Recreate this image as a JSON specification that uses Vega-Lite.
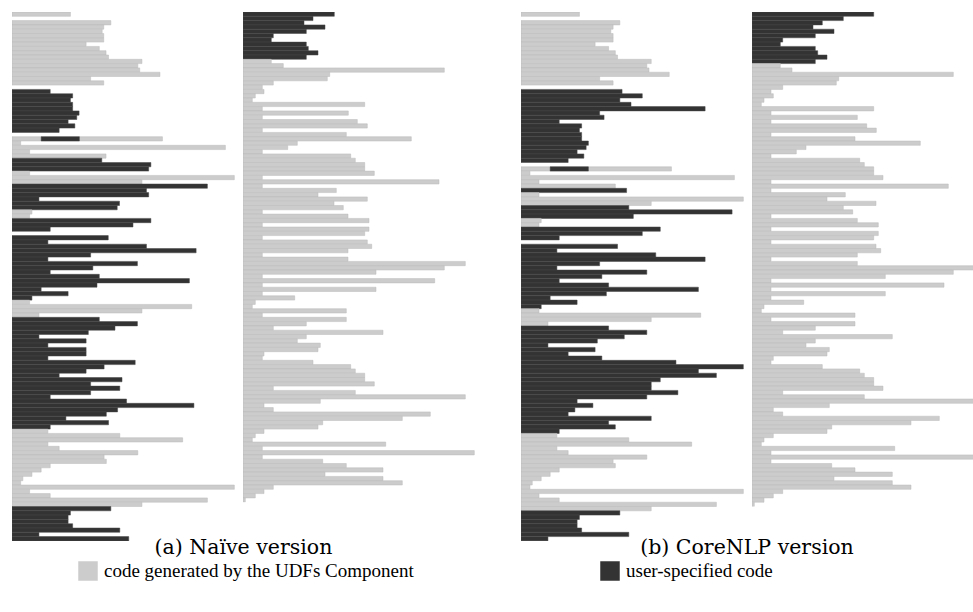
{
"$schema":"https://vega.github.io/schema/vega-lite/v6.json",
"padding":{"left":12,"top":12,"right":0,"bottom":0},
"datasets":{
"A1":[{"r":0,"e":60.7,"k":"g"},{"r":1,"e":0,"k":"g"},{"r":2,"e":102.7,"k":"g"},{"r":3,"e":95.3,"k":"g"},{"r":4,"e":93.7,"k":"g"},{"r":5,"e":95.3,"k":"g"},{"r":6,"e":95.3,"k":"g"},{"r":7,"e":77,"k":"g"},{"r":8,"e":90.7,"k":"g"},{"r":9,"e":97.7,"k":"g"},{"r":10,"e":100.3,"k":"g"},{"r":11,"e":135,"k":"g"},{"r":12,"e":130.7,"k":"g"},{"r":13,"e":132.7,"k":"g"},{"r":14,"e":153.7,"k":"g"},{"r":15,"e":81.7,"k":"g"},{"r":16,"e":95.3,"k":"g"},{"r":17,"e":0,"k":"g"},{"r":18,"e":39.7,"k":"u"},{"r":19,"e":63,"k":"u"},{"r":20,"e":60.7,"k":"u"},{"r":21,"e":63,"k":"u"},{"r":22,"e":63,"k":"u"},{"r":23,"e":69.7,"k":"u"},{"r":24,"e":67.3,"k":"u"},{"r":25,"e":58.3,"k":"u"},{"r":26,"e":65.3,"k":"u"},{"r":27,"e":49,"k":"u"},{"r":28,"e":0,"k":"g"},{"r":29,"e":156.3,"k":"g"},{"r":30,"e":9,"k":"g"},{"r":31,"e":221.7,"k":"g"},{"r":32,"e":18.3,"k":"g"},{"r":33,"e":97.7,"k":"g"},{"r":34,"e":93.3,"k":"u"},{"r":35,"e":144.3,"k":"u"},{"r":36,"e":142,"k":"u"},{"r":37,"e":18.3,"k":"g"},{"r":38,"e":231,"k":"g"},{"r":39,"e":135,"k":"g"},{"r":40,"e":203,"k":"u"},{"r":41,"e":139.7,"k":"u"},{"r":42,"e":142,"k":"u"},{"r":43,"e":28,"k":"u"},{"r":44,"e":111.7,"k":"u"},{"r":45,"e":109.3,"k":"u"},{"r":46,"e":20.7,"k":"g"},{"r":47,"e":18.3,"k":"g"},{"r":48,"e":144.3,"k":"u"},{"r":49,"e":125.7,"k":"u"},{"r":50,"e":39.7,"k":"u"},{"r":51,"e":0,"k":"g"},{"r":52,"e":100,"k":"u"},{"r":53,"e":37.3,"k":"u"},{"r":54,"e":139.7,"k":"u"},{"r":55,"e":191.3,"k":"u"},{"r":56,"e":81.7,"k":"u"},{"r":57,"e":37.3,"k":"u"},{"r":58,"e":130.3,"k":"u"},{"r":59,"e":84,"k":"u"},{"r":60,"e":39.7,"k":"u"},{"r":61,"e":90.7,"k":"u"},{"r":62,"e":184.3,"k":"u"},{"r":63,"e":88.3,"k":"u"},{"r":64,"e":30.3,"k":"u"},{"r":65,"e":58.3,"k":"u"},{"r":66,"e":20.7,"k":"u"},{"r":67,"e":18.3,"k":"g"},{"r":68,"e":186.7,"k":"g"},{"r":69,"e":135,"k":"g"},{"r":70,"e":28,"k":"g"},{"r":71,"e":90.7,"k":"u"},{"r":72,"e":130.3,"k":"u"},{"r":73,"e":107,"k":"u"},{"r":74,"e":79.3,"k":"u"},{"r":75,"e":28,"k":"u"},{"r":76,"e":77,"k":"u"},{"r":77,"e":37.3,"k":"u"},{"r":78,"e":77,"k":"u"},{"r":79,"e":77,"k":"u"},{"r":80,"e":37.3,"k":"u"},{"r":81,"e":128,"k":"u"},{"r":82,"e":95.7,"k":"u"},{"r":83,"e":77,"k":"u"},{"r":84,"e":49,"k":"u"},{"r":85,"e":114.3,"k":"u"},{"r":86,"e":81.7,"k":"u"},{"r":87,"e":112,"k":"u"},{"r":88,"e":81.7,"k":"u"},{"r":89,"e":39.7,"k":"u"},{"r":90,"e":119,"k":"u"},{"r":91,"e":189,"k":"u"},{"r":92,"e":109.7,"k":"u"},{"r":93,"e":98,"k":"u"},{"r":94,"e":56,"k":"u"},{"r":95,"e":100.3,"k":"u"},{"r":96,"e":39.7,"k":"u"},{"r":97,"e":37.3,"k":"g"},{"r":98,"e":112,"k":"g"},{"r":99,"e":177.3,"k":"g"},{"r":100,"e":37.3,"k":"g"},{"r":101,"e":49,"k":"g"},{"r":102,"e":130.7,"k":"g"},{"r":103,"e":95.7,"k":"g"},{"r":104,"e":98,"k":"g"},{"r":105,"e":39.7,"k":"g"},{"r":106,"e":30.3,"k":"g"},{"r":107,"e":20.7,"k":"g"},{"r":108,"e":11.3,"k":"g"},{"r":109,"e":9,"k":"g"},{"r":110,"e":231,"k":"g"},{"r":111,"e":18.3,"k":"g"},{"r":112,"e":39.7,"k":"g"},{"r":113,"e":203,"k":"g"},{"r":114,"e":135,"k":"g"},{"r":115,"e":102.7,"k":"u"},{"r":116,"e":60.7,"k":"u"},{"r":117,"e":58.3,"k":"u"},{"r":118,"e":58.3,"k":"u"},{"r":119,"e":63,"k":"u"},{"r":120,"e":112,"k":"u"},{"r":121,"e":28,"k":"u"},{"r":122,"e":121.3,"k":"u"}],
"A1s":[{"r":29,"s":30.3,"e":70,"k":"u"}],
"A2":[{"r":0,"e":91.3,"k":"u"},{"r":1,"e":70,"k":"u"},{"r":2,"e":61,"k":"u"},{"r":3,"e":82,"k":"u"},{"r":4,"e":63.3,"k":"u"},{"r":5,"e":30.3,"k":"u"},{"r":6,"e":28.3,"k":"u"},{"r":7,"e":63.3,"k":"u"},{"r":8,"e":65.3,"k":"u"},{"r":9,"e":75,"k":"u"},{"r":10,"e":63.3,"k":"u"},{"r":11,"e":28.3,"k":"g"},{"r":12,"e":40.3,"k":"g"},{"r":13,"e":201.3,"k":"g"},{"r":14,"e":86.7,"k":"g"},{"r":15,"e":84.3,"k":"g"},{"r":16,"e":30.3,"k":"g"},{"r":17,"e":19.3,"k":"g"},{"r":18,"e":21,"k":"g"},{"r":19,"e":12.3,"k":"g"},{"r":20,"e":9.3,"k":"g"},{"r":21,"e":121.7,"k":"g"},{"r":22,"e":19.3,"k":"g"},{"r":23,"e":105.3,"k":"g"},{"r":24,"e":19.3,"k":"g"},{"r":25,"e":114.3,"k":"g"},{"r":26,"e":124.3,"k":"g"},{"r":27,"e":19.3,"k":"g"},{"r":28,"e":103.3,"k":"g"},{"r":29,"e":168.3,"k":"g"},{"r":30,"e":54.3,"k":"g"},{"r":31,"e":44.7,"k":"g"},{"r":32,"e":19.3,"k":"g"},{"r":33,"e":107.7,"k":"g"},{"r":34,"e":112.3,"k":"g"},{"r":35,"e":121.7,"k":"g"},{"r":36,"e":121.7,"k":"g"},{"r":37,"e":131.3,"k":"g"},{"r":38,"e":19.3,"k":"g"},{"r":39,"e":196,"k":"g"},{"r":40,"e":19.3,"k":"g"},{"r":41,"e":93.3,"k":"g"},{"r":42,"e":75,"k":"g"},{"r":43,"e":124.3,"k":"g"},{"r":44,"e":91,"k":"g"},{"r":45,"e":100.3,"k":"g"},{"r":46,"e":19.3,"k":"g"},{"r":47,"e":105,"k":"g"},{"r":48,"e":126,"k":"g"},{"r":49,"e":19.3,"k":"g"},{"r":50,"e":126,"k":"g"},{"r":51,"e":121.7,"k":"g"},{"r":52,"e":19.3,"k":"g"},{"r":53,"e":124.3,"k":"g"},{"r":54,"e":128.7,"k":"g"},{"r":55,"e":105,"k":"g"},{"r":56,"e":19.3,"k":"g"},{"r":57,"e":105,"k":"g"},{"r":58,"e":222.3,"k":"g"},{"r":59,"e":201.3,"k":"g"},{"r":60,"e":133,"k":"g"},{"r":61,"e":19.3,"k":"g"},{"r":62,"e":191.7,"k":"g"},{"r":63,"e":19.3,"k":"g"},{"r":64,"e":133,"k":"g"},{"r":65,"e":19.3,"k":"g"},{"r":66,"e":51.7,"k":"g"},{"r":67,"e":12.3,"k":"g"},{"r":68,"e":9.3,"k":"g"},{"r":69,"e":103.3,"k":"g"},{"r":70,"e":19.3,"k":"g"},{"r":71,"e":103.3,"k":"g"},{"r":72,"e":63.3,"k":"g"},{"r":73,"e":30.3,"k":"g"},{"r":74,"e":140,"k":"g"},{"r":75,"e":63.3,"k":"g"},{"r":76,"e":54.3,"k":"g"},{"r":77,"e":77.3,"k":"g"},{"r":78,"e":75,"k":"g"},{"r":79,"e":21,"k":"g"},{"r":80,"e":19.3,"k":"g"},{"r":81,"e":70,"k":"g"},{"r":82,"e":107.7,"k":"g"},{"r":83,"e":112.3,"k":"g"},{"r":84,"e":121.7,"k":"g"},{"r":85,"e":121.7,"k":"g"},{"r":86,"e":131.3,"k":"g"},{"r":87,"e":30.3,"k":"g"},{"r":88,"e":112.3,"k":"g"},{"r":89,"e":222.3,"k":"g"},{"r":90,"e":77.3,"k":"g"},{"r":91,"e":21,"k":"g"},{"r":92,"e":30.3,"k":"g"},{"r":93,"e":187.3,"k":"g"},{"r":94,"e":159.3,"k":"g"},{"r":95,"e":79.7,"k":"g"},{"r":96,"e":75,"k":"g"},{"r":97,"e":21,"k":"g"},{"r":98,"e":12.3,"k":"g"},{"r":99,"e":9.3,"k":"g"},{"r":100,"e":142.7,"k":"g"},{"r":101,"e":19.3,"k":"g"},{"r":102,"e":231.3,"k":"g"},{"r":103,"e":19.3,"k":"g"},{"r":104,"e":79.7,"k":"g"},{"r":105,"e":103.3,"k":"g"},{"r":106,"e":140,"k":"g"},{"r":107,"e":82,"k":"g"},{"r":108,"e":140,"k":"g"},{"r":109,"e":159.3,"k":"g"},{"r":110,"e":30.3,"k":"g"},{"r":111,"e":21,"k":"g"},{"r":112,"e":12.3,"k":"g"},{"r":113,"e":2.3,"k":"g"}],
"B1":[{"r":0,"e":60.7,"k":"g"},{"r":1,"e":0,"k":"g"},{"r":2,"e":102.7,"k":"g"},{"r":3,"e":95.7,"k":"g"},{"r":4,"e":93.3,"k":"g"},{"r":5,"e":95.7,"k":"g"},{"r":6,"e":95.7,"k":"g"},{"r":7,"e":77,"k":"g"},{"r":8,"e":91,"k":"g"},{"r":9,"e":98,"k":"g"},{"r":10,"e":100.3,"k":"g"},{"r":11,"e":135.3,"k":"g"},{"r":12,"e":130.7,"k":"g"},{"r":13,"e":133,"k":"g"},{"r":14,"e":154,"k":"g"},{"r":15,"e":81.7,"k":"g"},{"r":16,"e":95.7,"k":"g"},{"r":17,"e":0,"k":"g"},{"r":18,"e":105,"k":"u"},{"r":19,"e":126,"k":"u"},{"r":20,"e":102.7,"k":"u"},{"r":21,"e":114.3,"k":"u"},{"r":22,"e":191.3,"k":"u"},{"r":23,"e":81.7,"k":"u"},{"r":24,"e":86.3,"k":"u"},{"r":25,"e":39.7,"k":"u"},{"r":26,"e":63,"k":"u"},{"r":27,"e":60.7,"k":"u"},{"r":28,"e":63,"k":"u"},{"r":29,"e":63,"k":"u"},{"r":30,"e":70,"k":"u"},{"r":31,"e":67.7,"k":"u"},{"r":32,"e":58.3,"k":"u"},{"r":33,"e":65.3,"k":"u"},{"r":34,"e":49,"k":"u"},{"r":35,"e":0,"k":"g"},{"r":36,"e":156.3,"k":"g"},{"r":37,"e":9.3,"k":"g"},{"r":38,"e":221.7,"k":"g"},{"r":39,"e":18.7,"k":"g"},{"r":40,"e":98,"k":"g"},{"r":41,"e":109.7,"k":"u"},{"r":42,"e":18.7,"k":"g"},{"r":43,"e":231,"k":"g"},{"r":44,"e":135.3,"k":"g"},{"r":45,"e":112,"k":"u"},{"r":46,"e":219.3,"k":"u"},{"r":47,"e":116.7,"k":"u"},{"r":48,"e":21,"k":"g"},{"r":49,"e":18.7,"k":"g"},{"r":50,"e":144.7,"k":"u"},{"r":51,"e":126,"k":"u"},{"r":52,"e":39.7,"k":"u"},{"r":53,"e":0,"k":"g"},{"r":54,"e":100.3,"k":"u"},{"r":55,"e":37.3,"k":"u"},{"r":56,"e":140,"k":"u"},{"r":57,"e":191.3,"k":"u"},{"r":58,"e":81.7,"k":"u"},{"r":59,"e":37.3,"k":"u"},{"r":60,"e":130.7,"k":"u"},{"r":61,"e":84,"k":"u"},{"r":62,"e":39.7,"k":"u"},{"r":63,"e":91,"k":"u"},{"r":64,"e":184.3,"k":"u"},{"r":65,"e":88.7,"k":"u"},{"r":66,"e":30.3,"k":"u"},{"r":67,"e":58.3,"k":"u"},{"r":68,"e":21,"k":"u"},{"r":69,"e":18.7,"k":"g"},{"r":70,"e":186.7,"k":"g"},{"r":71,"e":135.3,"k":"g"},{"r":72,"e":28,"k":"g"},{"r":73,"e":91,"k":"u"},{"r":74,"e":130.7,"k":"u"},{"r":75,"e":107.3,"k":"u"},{"r":76,"e":79.3,"k":"u"},{"r":77,"e":28,"k":"u"},{"r":78,"e":77,"k":"u"},{"r":79,"e":49,"k":"u"},{"r":80,"e":84,"k":"u"},{"r":81,"e":161,"k":"u"},{"r":82,"e":231,"k":"u"},{"r":83,"e":184.3,"k":"u"},{"r":84,"e":203,"k":"u"},{"r":85,"e":144.7,"k":"u"},{"r":86,"e":135.3,"k":"u"},{"r":87,"e":135.3,"k":"u"},{"r":88,"e":163,"k":"u"},{"r":89,"e":130.7,"k":"u"},{"r":90,"e":58.3,"k":"u"},{"r":91,"e":74.7,"k":"u"},{"r":92,"e":56,"k":"u"},{"r":93,"e":49,"k":"u"},{"r":94,"e":135.3,"k":"u"},{"r":95,"e":91,"k":"u"},{"r":96,"e":98,"k":"u"},{"r":97,"e":39.7,"k":"u"},{"r":98,"e":37.3,"k":"g"},{"r":99,"e":112,"k":"g"},{"r":100,"e":177.3,"k":"g"},{"r":101,"e":37.3,"k":"g"},{"r":102,"e":49,"k":"g"},{"r":103,"e":130.7,"k":"g"},{"r":104,"e":95.7,"k":"g"},{"r":105,"e":98,"k":"g"},{"r":106,"e":39.7,"k":"g"},{"r":107,"e":30.3,"k":"g"},{"r":108,"e":21,"k":"g"},{"r":109,"e":11.7,"k":"g"},{"r":110,"e":9.3,"k":"g"},{"r":111,"e":231,"k":"g"},{"r":112,"e":18.7,"k":"g"},{"r":113,"e":39.7,"k":"g"},{"r":114,"e":203,"k":"g"},{"r":115,"e":135.3,"k":"g"},{"r":116,"e":102.7,"k":"u"},{"r":117,"e":60.7,"k":"u"},{"r":118,"e":58.3,"k":"u"},{"r":119,"e":58.3,"k":"u"},{"r":120,"e":63,"k":"u"},{"r":121,"e":112,"k":"u"},{"r":122,"e":28,"k":"u"}],
"B1s":[{"r":36,"s":30.3,"e":70,"k":"u"}],
"B2":[{"r":0,"e":121.7,"k":"u"},{"r":1,"e":91.3,"k":"u"},{"r":2,"e":70.3,"k":"u"},{"r":3,"e":61,"k":"u"},{"r":4,"e":82,"k":"u"},{"r":5,"e":63.3,"k":"u"},{"r":6,"e":30.7,"k":"u"},{"r":7,"e":28.3,"k":"u"},{"r":8,"e":63.3,"k":"u"},{"r":9,"e":65.7,"k":"u"},{"r":10,"e":75,"k":"u"},{"r":11,"e":63.3,"k":"u"},{"r":12,"e":28.3,"k":"g"},{"r":13,"e":40,"k":"g"},{"r":14,"e":201.3,"k":"g"},{"r":15,"e":86.7,"k":"g"},{"r":16,"e":84.3,"k":"g"},{"r":17,"e":30.7,"k":"g"},{"r":18,"e":19,"k":"g"},{"r":19,"e":21.3,"k":"g"},{"r":20,"e":12,"k":"g"},{"r":21,"e":9.3,"k":"g"},{"r":22,"e":121.7,"k":"g"},{"r":23,"e":19,"k":"g"},{"r":24,"e":105.3,"k":"g"},{"r":25,"e":19,"k":"g"},{"r":26,"e":114.7,"k":"g"},{"r":27,"e":124.3,"k":"g"},{"r":28,"e":19,"k":"g"},{"r":29,"e":103,"k":"g"},{"r":30,"e":168.3,"k":"g"},{"r":31,"e":54,"k":"g"},{"r":32,"e":44.3,"k":"g"},{"r":33,"e":19,"k":"g"},{"r":34,"e":107.7,"k":"g"},{"r":35,"e":112.3,"k":"g"},{"r":36,"e":121.7,"k":"g"},{"r":37,"e":121.7,"k":"g"},{"r":38,"e":131,"k":"g"},{"r":39,"e":19,"k":"g"},{"r":40,"e":196.3,"k":"g"},{"r":41,"e":19,"k":"g"},{"r":42,"e":93.3,"k":"g"},{"r":43,"e":75,"k":"g"},{"r":44,"e":124,"k":"g"},{"r":45,"e":91.3,"k":"g"},{"r":46,"e":100.7,"k":"g"},{"r":47,"e":19,"k":"g"},{"r":48,"e":105.3,"k":"g"},{"r":49,"e":126.3,"k":"g"},{"r":50,"e":19,"k":"g"},{"r":51,"e":126.3,"k":"g"},{"r":52,"e":121.7,"k":"g"},{"r":53,"e":19,"k":"g"},{"r":54,"e":124,"k":"g"},{"r":55,"e":128.7,"k":"g"},{"r":56,"e":105.3,"k":"g"},{"r":57,"e":19,"k":"g"},{"r":58,"e":105.3,"k":"g"},{"r":59,"e":222.3,"k":"g"},{"r":60,"e":201.3,"k":"g"},{"r":61,"e":133.3,"k":"g"},{"r":62,"e":19,"k":"g"},{"r":63,"e":192,"k":"g"},{"r":64,"e":19,"k":"g"},{"r":65,"e":133.3,"k":"g"},{"r":66,"e":19,"k":"g"},{"r":67,"e":51.7,"k":"g"},{"r":68,"e":12,"k":"g"},{"r":69,"e":9.3,"k":"g"},{"r":70,"e":103,"k":"g"},{"r":71,"e":19,"k":"g"},{"r":72,"e":103,"k":"g"},{"r":73,"e":63.3,"k":"g"},{"r":74,"e":30.7,"k":"g"},{"r":75,"e":140.3,"k":"g"},{"r":76,"e":63.3,"k":"g"},{"r":77,"e":54,"k":"g"},{"r":78,"e":77.3,"k":"g"},{"r":79,"e":75,"k":"g"},{"r":80,"e":21.3,"k":"g"},{"r":81,"e":19,"k":"g"},{"r":82,"e":70.3,"k":"g"},{"r":83,"e":107.7,"k":"g"},{"r":84,"e":112.3,"k":"g"},{"r":85,"e":121.7,"k":"g"},{"r":86,"e":121.7,"k":"g"},{"r":87,"e":131,"k":"g"},{"r":88,"e":30.7,"k":"g"},{"r":89,"e":112.3,"k":"g"},{"r":90,"e":222.3,"k":"g"},{"r":91,"e":77.3,"k":"g"},{"r":92,"e":21.3,"k":"g"},{"r":93,"e":30.7,"k":"g"},{"r":94,"e":187.3,"k":"g"},{"r":95,"e":159,"k":"g"},{"r":96,"e":79.7,"k":"g"},{"r":97,"e":75,"k":"g"},{"r":98,"e":21.3,"k":"g"},{"r":99,"e":12,"k":"g"},{"r":100,"e":9.3,"k":"g"},{"r":101,"e":142.7,"k":"g"},{"r":102,"e":19,"k":"g"},{"r":103,"e":231.3,"k":"g"},{"r":104,"e":19,"k":"g"},{"r":105,"e":79.7,"k":"g"},{"r":106,"e":103,"k":"g"},{"r":107,"e":140.3,"k":"g"},{"r":108,"e":82,"k":"g"},{"r":109,"e":140.3,"k":"g"},{"r":110,"e":159,"k":"g"},{"r":111,"e":30.7,"k":"g"},{"r":112,"e":21.3,"k":"g"},{"r":113,"e":12,"k":"g"},{"r":114,"e":2.3,"k":"g"}]
},
"hconcat":[
 {"title":{"text":"(a) Naïve version","orient":"bottom","anchor":"middle","offset":-3},
  "spacing":0,
  "resolve":{"scale":{"x":"independent","y":"independent"}},
  "hconcat":[
   {"width":231,"height":528.9,"data":{"name":"A1"},
    "encoding":{
     "y":{"field":"r","type":"ordinal","axis":null,"scale":{"paddingInner":0,"paddingOuter":0}},
     "color":{"field":"k","type":"nominal","scale":{"domain":["g","u"],"range":["#cccccc","#333333"]},
       "legend":{"labelExpr":"datum.value == 'g' ? 'code generated by the UDFs Component' : 'user-specified code'"}},
     "stroke":{"condition":{"test":"datum.k == 'u'","value":"#474747"},"value":"#bababa"},
     "strokeOpacity":{"condition":{"test":"datum.e == 0","value":0},"value":1}
    },
    "layer":[
     {"mark":{"type":"bar","strokeWidth":0.5,"clip":true},
      "encoding":{"x":{"field":"e","type":"quantitative","axis":null,"scale":{"domain":[0,231]}}}},
     {"data":{"name":"A1s"},"mark":{"type":"bar","strokeWidth":0.5,"clip":true},
      "encoding":{"x":{"field":"s","type":"quantitative","axis":null},"x2":{"field":"e"}}}
    ]},
   {"width":232,"height":490.2,"data":{"name":"A2"},
    "mark":{"type":"bar","strokeWidth":0.5,"clip":true},
    "encoding":{
     "y":{"field":"r","type":"ordinal","axis":null,"scale":{"paddingInner":0,"paddingOuter":0}},
     "x":{"field":"e","type":"quantitative","axis":null,"scale":{"domain":[0,232]}},
     "color":{"field":"k","type":"nominal","scale":{"domain":["g","u"],"range":["#cccccc","#333333"]},
       "legend":{"labelExpr":"datum.value == 'g' ? 'code generated by the UDFs Component' : 'user-specified code'"}},
     "stroke":{"condition":{"test":"datum.k == 'u'","value":"#474747"},"value":"#bababa"},
     "strokeOpacity":{"condition":{"test":"datum.e == 0","value":0},"value":1}
    }}
  ]},
 {"title":{"text":"(b) CoreNLP version","orient":"bottom","anchor":"middle","offset":-3},
  "spacing":0,
  "resolve":{"scale":{"x":"independent","y":"independent"}},
  "hconcat":[
   {"width":231,"height":528.9,"data":{"name":"B1"},
    "encoding":{
     "y":{"field":"r","type":"ordinal","axis":null,"scale":{"paddingInner":0,"paddingOuter":0}},
     "color":{"field":"k","type":"nominal","scale":{"domain":["g","u"],"range":["#cccccc","#333333"]},
       "legend":{"labelExpr":"datum.value == 'g' ? 'code generated by the UDFs Component' : 'user-specified code'"}},
     "stroke":{"condition":{"test":"datum.k == 'u'","value":"#474747"},"value":"#bababa"},
     "strokeOpacity":{"condition":{"test":"datum.e == 0","value":0},"value":1}
    },
    "layer":[
     {"mark":{"type":"bar","strokeWidth":0.5,"clip":true},
      "encoding":{"x":{"field":"e","type":"quantitative","axis":null,"scale":{"domain":[0,231]}}}},
     {"data":{"name":"B1s"},"mark":{"type":"bar","strokeWidth":0.5,"clip":true},
      "encoding":{"x":{"field":"s","type":"quantitative","axis":null},"x2":{"field":"e"}}}
    ]},
   {"width":221,"height":494.5,"data":{"name":"B2"},
    "mark":{"type":"bar","strokeWidth":0.5,"clip":true},
    "encoding":{
     "y":{"field":"r","type":"ordinal","axis":null,"scale":{"paddingInner":0,"paddingOuter":0}},
     "x":{"field":"e","type":"quantitative","axis":null,"scale":{"domain":[0,221]}},
     "color":{"field":"k","type":"nominal","scale":{"domain":["g","u"],"range":["#cccccc","#333333"]},
       "legend":{"labelExpr":"datum.value == 'g' ? 'code generated by the UDFs Component' : 'user-specified code'"}},
     "stroke":{"condition":{"test":"datum.k == 'u'","value":"#474747"},"value":"#bababa"},
     "strokeOpacity":{"condition":{"test":"datum.e == 0","value":0},"value":1}
    }}
  ]}
],
"spacing":46,
"resolve":{"scale":{"x":"independent","y":"independent"}},
"config":{
 "view":{"stroke":null},
 "title":{"font":"DejaVu Serif","fontSize":20.5,"fontWeight":"normal","color":"#000000"},
 "legend":{"orient":"none","legendX":66,"legendY":549,"direction":"horizontal","columns":2,"columnPadding":186,"symbolType":"square","symbolSize":380,"symbolStrokeWidth":0,"symbolOpacity":1,"labelFont":"Liberation Serif","labelFontSize":19,"labelColor":"#000000","labelLimit":0,"labelOffset":6,"title":null}
}
}
